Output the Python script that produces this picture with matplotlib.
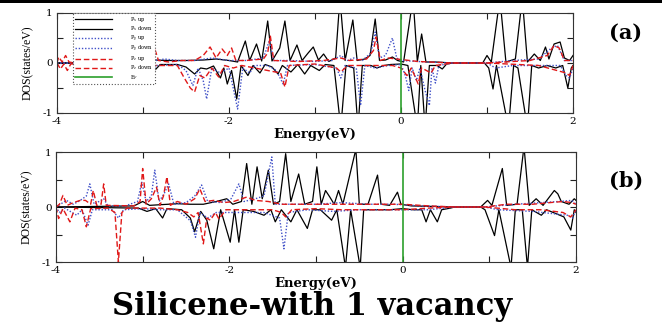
import matplotlib
matplotlib.use("Agg")
import matplotlib.pyplot as plt
from matplotlib.ticker import MultipleLocator, FuncFormatter
from matplotlib.patches import Rectangle

# ---------------- data (energy eV, DOS states/eV) ----------------
series_labels = ["P$_x$ up", "P$_x$ down", "P$_y$ up", "P$_y$ down", "P$_z$ up", "P$_z$ down"]
ef_label = "E$_F$"
fermi_energy = 0.0
panel_tags = ["(a)", "(b)"]
title_text = "Silicene-with 1 vacancy"
xlabel_text = "Energy(eV)"
ylabel_text = "DOS(states/eV)"

# panel (a)
a_px_up = [(-4.0, 0.0), (-3.0, 0.02), (-2.9, 0.06), (-2.7, 0.05), (-2.5, 0.05), (-2.3, 0.06), (-2.15, 0.08),
           (-2.0, 0.05), (-1.9, 0.02), (-1.81, 0.44), (-1.76, 0.05), (-1.68, 0.38), (-1.62, 0.04), (-1.55, 0.84),
           (-1.5, 0.04), (-1.41, 0.3), (-1.35, 0.84), (-1.29, 0.05), (-1.21, 0.36), (-1.15, 0.05), (-1.08, 0.2),
           (-1.02, 0.32), (-0.96, 0.06), (-0.9, 0.18), (-0.84, 0.03), (-0.76, 0.1), (-0.71, 1.3), (-0.65, 0.05),
           (-0.56, 0.86), (-0.51, 0.05), (-0.42, 0.08), (-0.36, 0.15), (-0.3, 0.88), (-0.25, 0.05), (-0.18, 0.06),
           (-0.1, 0.12), (-0.04, 0.05), (0.03, 0.02), (0.14, 1.3), (0.19, 0.03), (0.24, 0.58), (0.29, 0.02),
           (0.4, 0.02), (0.6, 0.0), (0.95, 0.0), (1.0, 0.15), (1.05, 0.02), (1.15, 1.3), (1.22, 0.02), (1.33, 0.08),
           (1.41, 1.3), (1.47, 0.02), (1.55, 0.18), (1.62, 0.05), (1.68, 0.32), (1.72, 0.08), (1.78, 0.38),
           (1.85, 0.42), (1.9, 0.1), (1.96, 0.05), (2.0, 0.15)]
a_px_down = [(-4.0, 0.0), (-3.0, -0.02), (-2.9, -0.05), (-2.86, -0.14), (-2.8, -0.03), (-2.6, -0.03),
             (-2.5, -0.08), (-2.4, -0.22), (-2.33, -0.1), (-2.26, -0.12), (-2.18, -0.06), (-2.1, -0.3),
             (-2.06, -0.1), (-2.02, -0.42), (-1.97, -0.15), (-1.91, -0.72), (-1.86, -0.05), (-1.78, -0.25),
             (-1.72, -0.05), (-1.64, -0.2), (-1.58, -0.03), (-1.5, -0.08), (-1.43, -0.22), (-1.38, -0.05),
             (-1.28, -0.18), (-1.2, -0.03), (-1.12, -0.22), (-1.05, -0.05), (-0.95, -0.15), (-0.88, -0.03),
             (-0.78, -0.05), (-0.7, -1.3), (-0.64, -0.05), (-0.55, -0.1), (-0.5, -1.3), (-0.45, -0.05),
             (-0.35, -0.05), (-0.28, -0.1), (-0.2, -0.05), (-0.12, -0.03), (0.0, -0.02), (0.08, -0.05),
             (0.19, -1.3), (0.23, -0.05), (0.28, -1.3), (0.33, -0.05), (0.42, -0.05), (0.48, -0.12),
             (0.53, -0.02), (0.6, 0.0), (0.97, 0.0), (1.02, -0.1), (1.07, -0.52), (1.11, -0.05), (1.25, -1.3),
             (1.31, -0.05), (1.36, -0.1), (1.47, -1.3), (1.52, -0.05), (1.6, -0.1), (1.7, -0.05), (1.8, -0.1),
             (1.88, -0.05), (1.94, -0.5), (1.98, -0.1), (2.0, -0.05)]
a_py_up = [(-4.0, 0.0), (-3.5, 0.0), (-3.0, 0.02), (-2.85, 0.05), (-2.75, 0.08), (-2.6, 0.05), (-2.4, 0.05),
           (-2.2, 0.1), (-2.0, 0.05), (-1.8, 0.05), (-1.6, 0.1), (-1.53, 0.45), (-1.48, 0.05), (-1.3, 0.05),
           (-1.0, 0.03), (-0.8, 0.05), (-0.7, 0.15), (-0.62, 0.05), (-0.55, 0.1), (-0.45, 0.05), (-0.35, 0.2),
           (-0.3, 0.62), (-0.25, 0.1), (-0.18, 0.15), (-0.1, 0.5), (-0.05, 0.1), (0.0, 0.05), (0.3, 0.02),
           (0.6, 0.0), (1.0, 0.0), (1.3, 0.05), (1.6, 0.08), (1.75, 0.3), (1.82, 0.35), (1.9, 0.05), (2.0, 0.05)]
a_py_down = [(-4.0, 0.0), (-3.0, -0.02), (-2.9, -0.25), (-2.85, -0.05), (-2.6, -0.03), (-2.5, -0.15),
             (-2.42, -0.45), (-2.36, -0.1), (-2.3, -0.35), (-2.26, -0.72), (-2.2, -0.1), (-2.1, -0.2),
             (-2.0, -0.1), (-1.9, -0.92), (-1.84, -0.1), (-1.76, -0.2), (-1.7, -0.05), (-1.55, -0.05),
             (-1.45, -0.15), (-1.37, -0.42), (-1.32, -0.05), (-1.0, -0.03), (-0.75, -0.1), (-0.7, -0.3),
             (-0.65, -0.05), (-0.52, -0.1), (-0.47, -0.85), (-0.42, -0.05), (-0.3, -0.1), (-0.15, -0.05),
             (0.0, -0.03), (0.05, -0.25), (0.09, -0.55), (0.13, -0.1), (0.18, -0.35), (0.22, -0.1), (0.28, -0.55),
             (0.33, -0.85), (0.36, -0.1), (0.4, -0.4), (0.44, -0.05), (0.6, 0.0), (1.0, 0.0), (1.1, -0.1),
             (1.3, -0.05), (1.6, -0.05), (1.85, -0.05), (1.92, -0.25), (1.96, -0.3), (2.0, -0.1)]
a_pz_up = [(-4.0, 0.0), (-3.98, 0.12), (-3.94, 0.02), (-3.9, 0.15), (-3.86, 0.02), (-3.8, 0.0), (-3.0, 0.0),
           (-2.9, 0.1), (-2.87, 0.32), (-2.82, 0.05), (-2.7, 0.02), (-2.55, 0.05), (-2.4, 0.05), (-2.3, 0.15),
           (-2.22, 0.32), (-2.15, 0.1), (-2.08, 0.28), (-2.02, 0.15), (-1.97, 0.3), (-1.92, 0.05), (-1.8, 0.05),
           (-1.6, 0.08), (-1.55, 0.2), (-1.52, 0.55), (-1.48, 0.05), (-1.2, 0.03), (-0.9, 0.05), (-0.7, 0.1),
           (-0.6, 0.05), (-0.4, 0.08), (-0.32, 0.25), (-0.29, 0.52), (-0.24, 0.05), (-0.15, 0.1), (-0.05, 0.08),
           (0.2, 0.03), (0.6, 0.0), (1.0, 0.0), (1.5, 0.05), (1.7, 0.15), (1.78, 0.35), (1.84, 0.3), (1.9, 0.05),
           (2.0, 0.05)]
a_pz_down = [(-4.0, 0.0), (-3.96, -0.12), (-3.92, -0.02), (-3.88, -0.15), (-3.84, -0.02), (-3.0, 0.0),
             (-2.85, -0.05), (-2.6, -0.05), (-2.52, -0.3), (-2.45, -0.5), (-2.4, -0.58), (-2.34, -0.25),
             (-2.28, -0.3), (-2.2, -0.1), (-2.12, -0.28), (-2.05, -0.05), (-1.95, -0.1), (-1.85, -0.05),
             (-1.4, -0.2), (-1.35, -0.48), (-1.3, -0.05), (-1.0, -0.02), (-0.75, -0.1), (-0.7, -0.18),
             (-0.62, -0.05), (-0.4, -0.05), (-0.1, -0.05), (0.0, -0.1), (0.07, -0.25), (0.12, -0.1), (0.2, -0.42),
             (0.24, -0.1), (0.35, -0.2), (0.4, -0.05), (0.6, 0.0), (1.0, 0.0), (1.6, -0.05), (1.92, -0.2),
             (1.96, -0.25), (2.0, -0.05)]

# panel (b)
b_px_up = [(-4.0, 0.0), (-3.1, 0.02), (-3.0, 0.1), (-2.92, 0.03), (-2.6, 0.06), (-2.45, 0.05), (-2.3, 0.05),
           (-2.15, 0.1), (-2.03, 0.15), (-1.96, 0.05), (-1.86, 0.1), (-1.8, 0.79), (-1.74, 0.05), (-1.68, 0.73),
           (-1.62, 0.15), (-1.55, 0.67), (-1.49, 0.05), (-1.42, 0.1), (-1.35, 0.97), (-1.29, 0.1), (-1.2, 0.6),
           (-1.13, 0.05), (-1.04, 0.1), (-0.99, 0.73), (-0.94, 0.05), (-0.89, 0.3), (-0.84, 0.18), (-0.79, 0.05),
           (-0.74, 0.3), (-0.69, 0.05), (-0.54, 1.05), (-0.5, 0.05), (-0.4, 0.05), (-0.29, 0.58), (-0.25, 0.05),
           (-0.15, 0.03), (-0.06, 0.27), (-0.02, 0.05), (0.1, 0.02), (0.6, 0.0), (0.9, 0.0), (0.98, 0.12),
           (1.03, 0.03), (1.15, 0.7), (1.2, 0.03), (1.32, 0.05), (1.4, 1.1), (1.46, 0.03), (1.54, 0.15),
           (1.62, 0.03), (1.75, 0.3), (1.79, 0.24), (1.83, 0.1), (1.92, 0.05), (1.98, 0.15), (2.0, 0.12)]
b_px_down = [(-4.0, 0.0), (-3.05, -0.02), (-2.95, -0.08), (-2.85, -0.03), (-2.77, -0.2), (-2.72, -0.03),
             (-2.55, -0.05), (-2.45, -0.2), (-2.4, -0.45), (-2.33, -0.08), (-2.26, -0.24), (-2.18, -0.76),
             (-2.1, -0.05), (-1.99, -0.64), (-1.94, -0.05), (-1.89, -0.64), (-1.84, -0.05), (-1.72, -0.08),
             (-1.6, -0.15), (-1.52, -0.05), (-1.47, -0.27), (-1.4, -0.05), (-1.29, -0.27), (-1.22, -0.05),
             (-1.1, -0.39), (-1.04, -0.05), (-0.95, -0.05), (-0.82, -0.24), (-0.76, -0.05), (-0.66, -1.1),
             (-0.6, -0.05), (-0.49, -1.1), (-0.45, -0.05), (-0.35, -0.05), (-0.15, -0.05), (0.0, -0.03),
             (0.12, -0.05), (0.22, -0.05), (0.27, -0.27), (0.32, -0.05), (0.4, -0.27), (0.45, -0.05),
             (0.55, -0.02), (0.6, 0.0), (0.9, 0.0), (0.95, -0.05), (1.06, -0.52), (1.11, -0.05), (1.25, -1.1),
             (1.3, -0.05), (1.38, -0.05), (1.44, -1.1), (1.49, -0.05), (1.6, -0.15), (1.66, -0.05), (1.86, -0.18),
             (1.94, -0.42), (1.98, -0.05), (2.0, -0.1)]
b_py_up = [(-4.0, 0.0), (-3.95, 0.05), (-3.88, 0.12), (-3.8, 0.05), (-3.72, 0.12), (-3.65, 0.2), (-3.61, 0.42),
           (-3.56, 0.05), (-3.45, 0.15), (-3.4, 0.02), (-3.2, 0.02), (-3.06, 0.1), (-3.01, 0.45), (-2.96, 0.1),
           (-2.9, 0.2), (-2.86, 0.67), (-2.81, 0.1), (-2.75, 0.25), (-2.7, 0.42), (-2.64, 0.05), (-2.5, 0.08),
           (-2.4, 0.2), (-2.32, 0.4), (-2.25, 0.1), (-2.1, 0.08), (-1.98, 0.15), (-1.89, 0.42), (-1.83, 0.1),
           (-1.7, 0.15), (-1.6, 0.2), (-1.51, 0.91), (-1.47, 0.05), (-1.3, 0.05), (-1.0, 0.05), (-0.7, 0.08),
           (-0.4, 0.05), (-0.1, 0.05), (0.2, 0.02), (0.6, 0.0), (0.95, 0.0), (1.3, 0.05), (1.6, 0.08),
           (1.8, 0.1), (1.95, 0.12), (2.0, 0.05)]
b_py_down = [(-4.0, 0.0), (-3.96, -0.1), (-3.9, -0.02), (-3.76, -0.15), (-3.7, -0.05), (-3.63, -0.33),
             (-3.58, -0.05), (-3.35, -0.05), (-3.28, -0.2), (-3.22, -0.05), (-3.0, -0.03), (-2.8, -0.05),
             (-2.6, -0.05), (-2.45, -0.25), (-2.39, -0.55), (-2.34, -0.1), (-2.25, -0.2), (-2.15, -0.1),
             (-1.95, -0.1), (-1.8, -0.1), (-1.6, -0.1), (-1.42, -0.2), (-1.37, -0.76), (-1.32, -0.1),
             (-1.1, -0.05), (-0.8, -0.08), (-0.5, -0.05), (0.0, -0.05), (0.3, -0.05), (0.6, 0.0), (0.95, 0.0),
             (1.1, -0.05), (1.5, -0.08), (1.9, -0.15), (1.96, -0.2), (2.0, -0.05)]
b_pz_up = [(-4.0, 0.0), (-3.96, 0.05), (-3.92, 0.21), (-3.87, 0.03), (-3.8, 0.08), (-3.72, 0.12), (-3.66, 0.12),
           (-3.6, 0.05), (-3.57, 0.3), (-3.53, 0.03), (-3.48, 0.05), (-3.45, 0.42), (-3.42, 0.03), (-3.1, 0.02),
           (-3.03, 0.1), (-3.0, 0.7), (-2.96, 0.05), (-2.9, 0.15), (-2.84, 0.36), (-2.8, 0.03), (-2.76, 0.2),
           (-2.72, 0.55), (-2.68, 0.03), (-2.6, 0.1), (-2.5, 0.05), (-2.4, 0.15), (-2.34, 0.33), (-2.28, 0.1),
           (-2.18, 0.12), (-2.06, 0.08), (-1.95, 0.1), (-1.8, 0.18), (-1.7, 0.12), (-1.55, 0.1), (-1.4, 0.05),
           (-1.1, 0.05), (-0.8, 0.05), (-0.4, 0.05), (0.0, 0.05), (0.3, 0.02), (0.6, 0.0), (0.95, 0.0),
           (1.2, 0.05), (1.5, 0.05), (1.7, 0.08), (1.85, 0.1), (1.95, 0.08), (2.0, 0.05)]
b_pz_down = [(-4.0, 0.0), (-3.97, -0.21), (-3.92, -0.03), (-3.84, -0.27), (-3.78, -0.02), (-3.7, -0.05),
             (-3.65, -0.36), (-3.6, -0.03), (-3.4, -0.02), (-3.32, -0.1), (-3.28, -1.0), (-3.24, -0.1),
             (-3.18, -0.02), (-2.8, -0.02), (-2.6, -0.05), (-2.48, -0.1), (-2.41, -0.18), (-2.36, -0.1),
             (-2.3, -0.67), (-2.26, -0.2), (-2.22, -0.24), (-2.16, -0.1), (-2.12, -0.22), (-2.04, -0.05),
             (-1.8, -0.05), (-1.5, -0.05), (-1.4, -0.1), (-1.35, -0.18), (-1.28, -0.05), (-1.0, -0.03),
             (-0.7, -0.05), (-0.3, -0.05), (0.0, -0.05), (0.3, -0.02), (0.6, 0.0), (0.95, 0.0), (1.3, -0.05),
             (1.6, -0.05), (1.85, -0.1), (1.94, -0.18), (2.0, -0.05)]

panel_a = [a_px_up, a_px_down, a_py_up, a_py_down, a_pz_up, a_pz_down]
panel_b = [b_px_up, b_px_down, b_py_up, b_py_down, b_pz_up, b_pz_down]

# ---------------- styling ----------------
plt.rcParams["mathtext.fontset"] = "dejavuserif"
serif = ["Liberation Serif", "DejaVu Serif"]
wide_serif = ["DejaVu Serif"]

styles = [
    dict(color="black", lw=0.9, ls="-"),
    dict(color="black", lw=0.9, ls="-"),
    dict(color="#4050c8", lw=1.0, ls=(0, (1, 1.3))),
    dict(color="#4050c8", lw=1.0, ls=(0, (1, 1.3))),
    dict(color="#e01818", lw=1.0, ls=(0, (4, 2))),
    dict(color="#e01818", lw=1.0, ls=(0, (4, 2))),
]

W, H = 662, 323
fig = plt.figure(figsize=(W / 100, H / 100), dpi=100)
fig.patches.append(Rectangle((0, 1 - 3 / H), 1, 3 / H, transform=fig.transFigure,
                             facecolor="black", edgecolor="none", zorder=5))

ax_a = fig.add_axes([57 / W, 1 - 113 / H, (573 - 57) / W, 100 / H])
ax_b = fig.add_axes([56 / W, 1 - 262 / H, (576 - 56) / W, 110 / H])


def xfmt(v, pos):
    r = int(round(v))
    return str(r) if r % 2 == 0 else ""


def yfmt(v, pos):
    if abs(v - round(v)) < 1e-6:
        return str(int(round(v)))
    return ""


handles = []
for ax, data in [(ax_a, panel_a), (ax_b, panel_b)]:
    for k, (ser, st) in enumerate(zip(data, styles)):
        e = [p[0] for p in ser]
        v = [p[1] for p in ser]
        ln, = ax.plot(e, v, label=series_labels[k], **st)
        if ax is ax_a:
            handles.append(ln)
    ef = ax.axvline(fermi_energy, color="#2ca02c", lw=1.2, label=ef_label)
    if ax is ax_a:
        handles.append(ef)
    ax.set_xlim(-4, 2)
    ax.set_ylim(-1, 1)
    ax.xaxis.set_major_locator(MultipleLocator(1))
    ax.yaxis.set_major_locator(MultipleLocator(0.5))
    ax.xaxis.set_major_formatter(FuncFormatter(xfmt))
    ax.yaxis.set_major_formatter(FuncFormatter(yfmt))
    ax.tick_params(direction="in", length=4, width=0.8, top=True, right=True,
                   labelsize=7.5, pad=3, colors="#222222", labelcolor="black")
    for lab in ax.get_xticklabels() + ax.get_yticklabels():
        lab.set_family(wide_serif)
    for s in ax.spines.values():
        s.set_linewidth(0.8)
        s.set_color("#333333")
    ax.set_xlabel(xlabel_text, family=wide_serif, fontweight="bold", fontsize=9.5, labelpad=1)
    ax.set_ylabel(ylabel_text, family=serif, fontsize=8.5, labelpad=6)

leg = ax_a.legend(handles=handles, loc="upper left", bbox_to_anchor=(0.031, 1.0), borderaxespad=0,
                  prop=dict(family="DejaVu Serif", size=3.6), handlelength=7.5, handletextpad=3.6,
                  labelspacing=0.05, borderpad=0.4, handleheight=0.6, fancybox=False, framealpha=1)
leg.get_frame().set_linestyle(":")
leg.get_frame().set_edgecolor("#555555")
leg.get_frame().set_linewidth(0.8)

fig.text(626 / W, 1 - 33 / H, panel_tags[0], family=wide_serif, fontweight="bold", fontsize=15,
         ha="center", va="center")
fig.text(626 / W, 1 - 181 / H, panel_tags[1], family=wide_serif, fontweight="bold", fontsize=15,
         ha="center", va="center")
fig.text(312 / W, 1 - 307 / H, title_text, family=wide_serif, fontweight="bold", fontsize=22,
         ha="center", va="center")

fig.savefig("out.png", dpi=100)
